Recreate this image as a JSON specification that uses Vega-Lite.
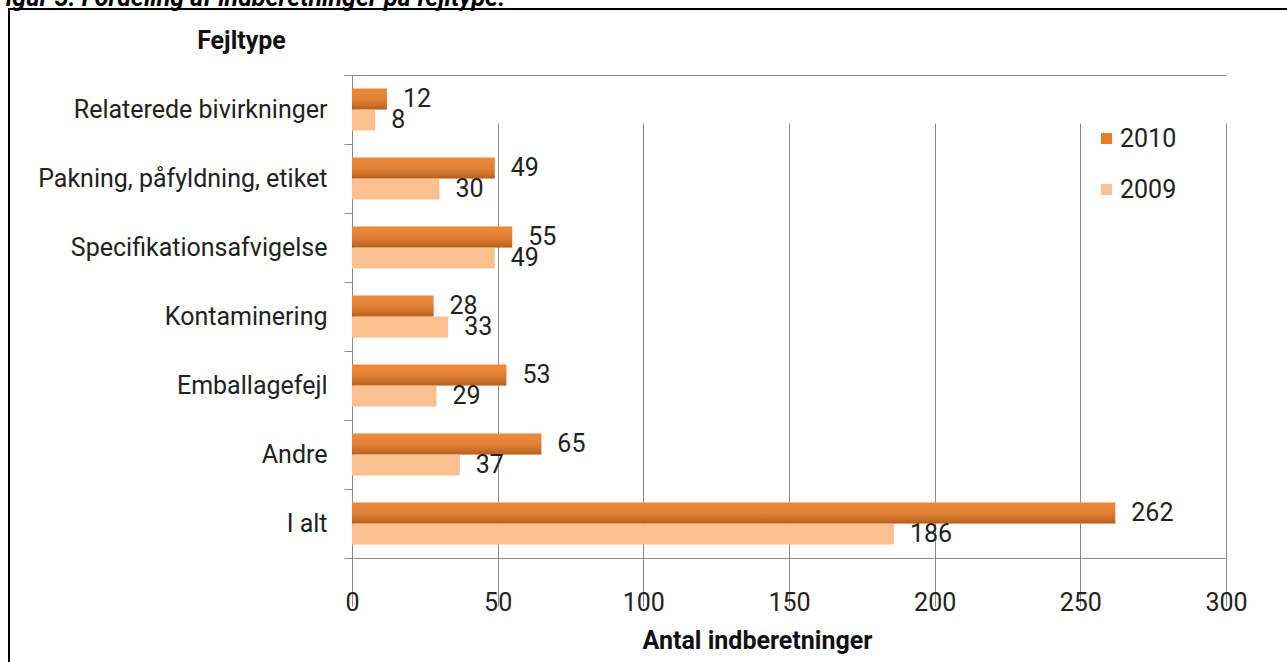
{
  "$schema": "https://vega.github.io/schema/vega-lite/v6.json",
  "autosize": {"type": "none"},
  "padding": {"left": 9, "top": 9, "right": -3, "bottom": -10},
  "width": 1281,
  "height": 663,
  "background": "#ffffff",
  "config": {
    "font": "Roboto",
    "view": {"stroke": "#000000", "strokeWidth": 2},
    "axis": {"labelColor": "#222222", "titleColor": "#111111"}
  },
  "data": {
    "values": [
      {"type": "Relaterede bivirkninger", "year": "2010", "count": 12},
      {"type": "Relaterede bivirkninger", "year": "2009", "count": 8},
      {"type": "Pakning, påfyldning, etiket", "year": "2010", "count": 49},
      {"type": "Pakning, påfyldning, etiket", "year": "2009", "count": 30},
      {"type": "Specifikationsafvigelse", "year": "2010", "count": 55},
      {"type": "Specifikationsafvigelse", "year": "2009", "count": 49},
      {"type": "Kontaminering", "year": "2010", "count": 28},
      {"type": "Kontaminering", "year": "2009", "count": 33},
      {"type": "Emballagefejl", "year": "2010", "count": 53},
      {"type": "Emballagefejl", "year": "2009", "count": 29},
      {"type": "Andre", "year": "2010", "count": 65},
      {"type": "Andre", "year": "2009", "count": 37},
      {"type": "I alt", "year": "2010", "count": 262},
      {"type": "I alt", "year": "2009", "count": 186}
    ]
  },
  "encoding": {
    "y": {
      "field": "type",
      "type": "nominal",
      "sort": null,
      "scale": {"range": [66, 549], "paddingInner": 0, "paddingOuter": 0},
      "axis": {
        "orient": "left",
        "offset": -343,
        "domainColor": "#8c8c8c",
        "tickColor": "#8c8c8c",
        "tickBand": "extent",
        "tickSize": 8,
        "labelPadding": 17,
        "labelFontSize": 25,
        "labelLimit": 0,
        "labelColor": "#222222",
        "title": "Fejltype",
        "titleAngle": 0,
        "titleX": -111,
        "titleY": 31,
        "titleAlign": "center",
        "titleBaseline": "middle",
        "titleFontSize": 25,
        "titleFontWeight": "bold"
      }
    },
    "yOffset": {
      "field": "year",
      "type": "nominal",
      "scale": {"domain": ["2010", "2009"], "paddingInner": 0, "paddingOuter": 0.643}
    }
  },
  "layer": [
    {
      "mark": {"type": "bar"},
      "encoding": {
        "x": {
          "field": "count",
          "type": "quantitative",
          "scale": {"domain": [0, 300], "range": [343, 1217], "nice": false},
          "axis": {
            "orient": "bottom",
            "offset": -114,
            "values": [0, 50, 100, 150, 200, 250, 300],
            "domainColor": "#8c8c8c",
            "tickColor": "#8c8c8c",
            "tickSize": 7,
            "grid": true,
            "gridColor": "#8c8c8c",
            "labelFontSize": 25,
            "labelFlush": false,
            "labelPadding": 37,
            "labelBaseline": "middle",
            "labelColor": "#222222",
            "title": "Antal indberetninger",
            "titleX": 748,
            "titleY": 82,
            "titleAlign": "center",
            "titleBaseline": "middle",
            "titleFontSize": 25,
            "titleFontWeight": "bold"
          }
        },
        "fill": {
          "field": "year",
          "type": "nominal",
          "scale": {"domain": ["2010", "2009"], "range": ["#ec7c22", "#fac090"]},
          "legend": {
            "orient": "none",
            "legendX": 1085,
            "legendY": 117,
            "title": null,
            "padding": 0,
            "symbolType": "square",
            "symbolSize": 121,
            "symbolStrokeWidth": 0,
            "labelFontSize": 25,
            "labelColor": "#222222",
            "labelOffset": 1,
            "rowPadding": 25
          }
        }
      }
    },
    {
      "transform": [{"filter": "datum.year == '2010'"}],
      "mark": {
        "type": "bar",
        "fill": {
          "gradient": "linear",
          "x1": 0, "y1": 0, "x2": 0, "y2": 1,
          "stops": [
            {"offset": 0, "color": "rgba(255,255,255,0.08)"},
            {"offset": 1, "color": "rgba(80,30,0,0.32)"}
          ]
        }
      },
      "encoding": {
        "x": {
          "field": "count",
          "type": "quantitative",
          "scale": {"domain": [0, 300], "range": [343, 1217], "nice": false},
          "axis": null
        }
      }
    },
    {
      "mark": {"type": "text", "align": "left", "baseline": "middle", "dx": 16, "fontSize": 25, "color": "#222222"},
      "encoding": {
        "x": {
          "field": "count",
          "type": "quantitative",
          "scale": {"domain": [0, 300], "range": [343, 1217], "nice": false},
          "axis": {
            "orient": "top",
            "offset": -66,
            "domain": true,
            "domainColor": "#8c8c8c",
            "ticks": false,
            "labels": false,
            "grid": false,
            "title": "Figur 3. Fordeling af indberetninger på fejltype.",
            "titleX": -17,
            "titleY": -70,
            "titleAlign": "left",
            "titleAnchor": null,
            "titleBaseline": "alphabetic",
            "titleFontSize": 25,
            "titleFontStyle": "italic",
            "titleFontWeight": "bold",
            "titleColor": "#000000",
            "titleLimit": 0
          }
        },
        "text": {"field": "count", "type": "quantitative"}
      }
    }
  ],
  "resolve": {"scale": {"x": "independent"}}
}
